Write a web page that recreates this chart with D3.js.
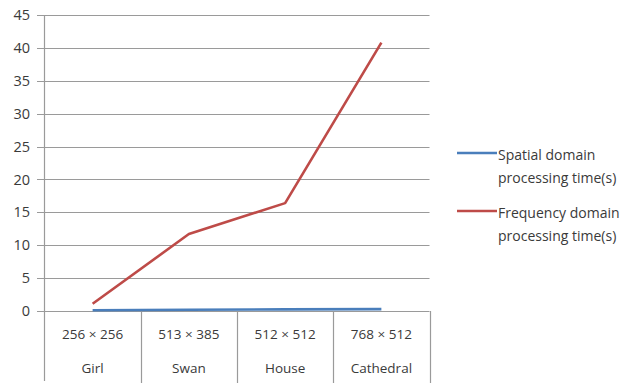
<!DOCTYPE html>
<html>
<head>
<meta charset="utf-8">
<script src="https://cdn.jsdelivr.net/npm/d3@7"></script>
<style>
  body { margin: 0; background: #fff; }
  svg { display: block; }
  text { font-family: "Open Sans", "Noto Sans", sans-serif; fill: #3a3a3a; }
</style>
</head>
<body>
<svg id="chart" width="636" height="383"></svg>
<script>
// Image sizes and names shown in the two-row category axis
const sizes = ["256\u00d7256", "513\u00d7385", "512\u00d7512", "768\u00d7512"];
const names = ["Girl", "Swan", "House", "Cathedral"];
// Processing times in seconds
const spatial = [0.12, 0.2, 0.25, 0.28];
const frequency = [1.1, 11.7, 16.4, 40.8];
const yTicks = [0, 5, 10, 15, 20, 25, 30, 35, 40, 45];
const seriesNames = ["Spatial domain\nprocessing time(s)", "Frequency domain\nprocessing time(s)"];
const colors = ["#4a7ebb", "#be4b48"];

const svg = d3.select("#chart");
const plotLeft = 44.5, plotRight = 429.5, plotTop = 15, plotBottom = 311;

const x = d3.scaleBand().domain(names).range([plotLeft, plotRight]).paddingInner(0).paddingOuter(0);
const y = d3.scaleLinear().domain([0, 45]).range([plotBottom, plotTop]);

// Horizontal gridlines with short outer ticks
svg.append("g").selectAll("line").data(yTicks).join("line")
  .attr("x1", 37).attr("x2", plotRight)
  .attr("y1", d => Math.round(y(d)) + 0.5).attr("y2", d => Math.round(y(d)) + 0.5)
  .attr("stroke", "#9a9a9a").attr("stroke-width", 1.2);

// Vertical value axis, running down through the category rows
svg.append("line").attr("x1", plotLeft).attr("x2", plotLeft).attr("y1", plotTop).attr("y2", 381)
  .attr("stroke", "#9a9a9a").attr("stroke-width", 1.2);

// Y tick labels
svg.append("g").selectAll("text").data(yTicks).join("text")
  .attr("x", 30).attr("y", d => y(d)).attr("dy", "0.35em")
  .attr("text-anchor", "end").attr("font-size", 14.5).text(d => d);

// Category dividers spanning the label table
const bounds = names.map(n => x(n)).slice(1).concat([plotRight]);
svg.append("g").selectAll("line").data(bounds).join("line")
  .attr("x1", d => Math.round(d) + 0.5).attr("x2", d => Math.round(d) + 0.5)
  .attr("y1", plotBottom).attr("y2", 383)
  .attr("stroke", "#9a9a9a").attr("stroke-width", 1.2);

// Two rows of category labels
svg.append("g").selectAll("text").data(sizes).join("text")
  .attr("x", (d, i) => x(names[i]) + x.bandwidth() / 2).attr("y", 334)
  .attr("dy", "0.35em").attr("text-anchor", "middle").attr("font-size", 13.5)
  .text(d => d.replace("\u00d7", " \u00d7 "));
svg.append("g").selectAll("text").data(names).join("text")
  .attr("x", d => x(d) + x.bandwidth() / 2).attr("y", 368)
  .attr("dy", "0.35em").attr("text-anchor", "middle").attr("font-size", 13.5)
  .text(d => d);

// Series lines
const line = d3.line().x((d, i) => x(names[i]) + x.bandwidth() / 2).y(d => y(d));
[spatial, frequency].forEach((vals, k) => {
  svg.append("path").datum(vals).attr("d", line)
    .attr("fill", "none").attr("stroke", colors[k]).attr("stroke-width", 2.6)
    .attr("stroke-linejoin", "round");
});

// Legend
const legendY = [153, 211];
seriesNames.forEach((s, k) => {
  const g = svg.append("g");
  g.append("line").attr("x1", 457).attr("x2", 497)
    .attr("y1", legendY[k]).attr("y2", legendY[k])
    .attr("stroke", colors[k]).attr("stroke-width", 2.6);
  s.split("\n").forEach((t, j) => {
    g.append("text").attr("x", 498).attr("y", legendY[k] + 2 + j * 23)
      .attr("dy", "0.35em").attr("font-size", 14).text(t);
  });
});
</script>
</body>
</html>
